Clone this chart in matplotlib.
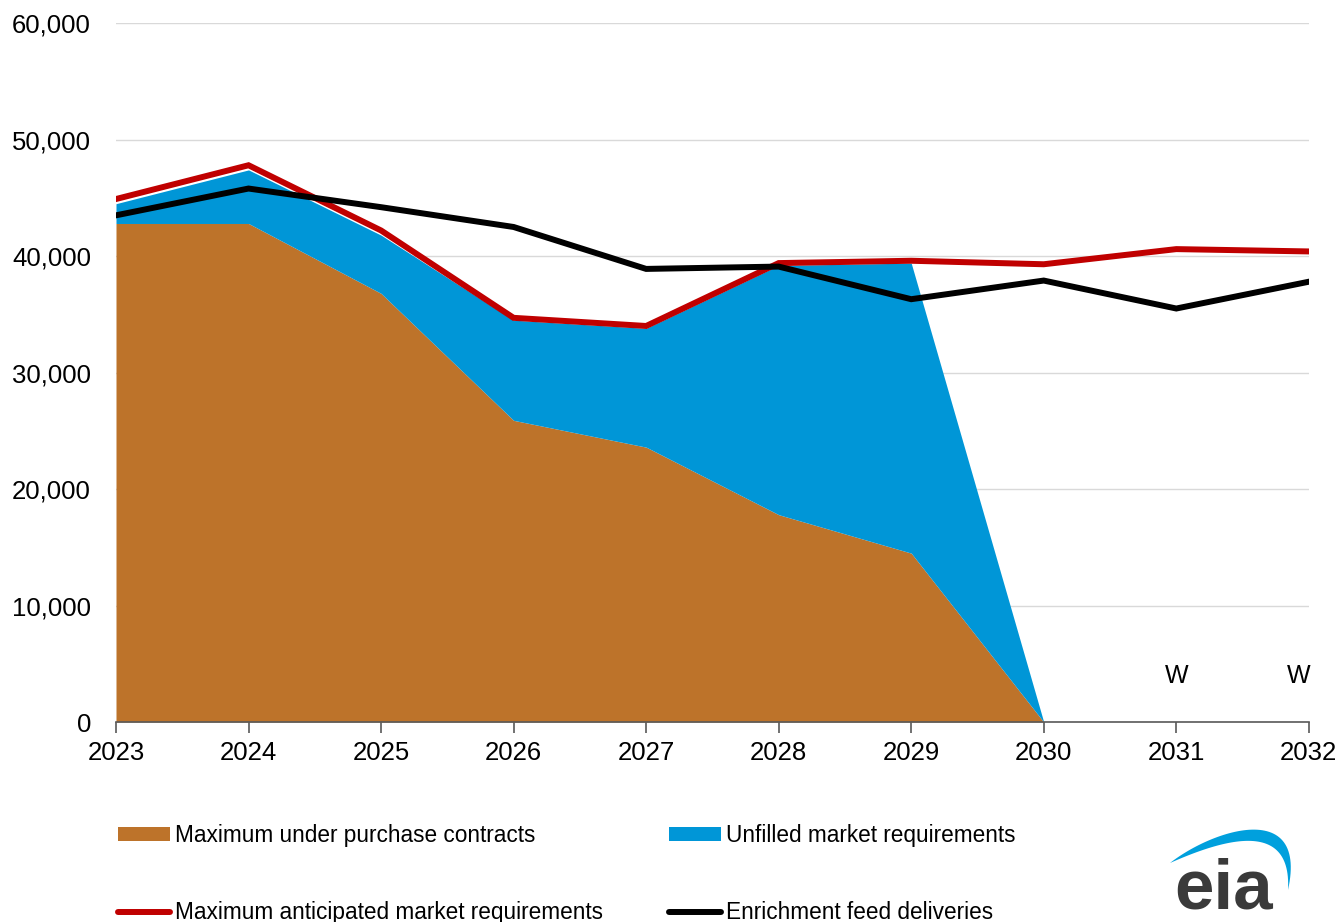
import matplotlib

matplotlib.use("Agg")

import matplotlib.pyplot as plt
import numpy as np
from matplotlib.lines import Line2D
from matplotlib.patches import Patch, Polygon

plt.rcParams["font.family"] = ["Liberation Sans", "DejaVu Sans"]

years = [2023, 2024, 2025, 2026, 2027, 2028, 2029, 2030, 2031, 2032]
purchase_contracts = [42800, 42800, 36800, 25900, 23600, 17800, 14500, 0]
unfilled_total = [44500, 47400, 41800, 34500, 33800, 39200, 39400, 0]
max_anticipated = [44900, 47800, 42200, 34700, 34000, 39400, 39600, 39300, 40600, 40400]
feed_deliveries = [43500, 45800, 44200, 42500, 38900, 39100, 36300, 37900, 35500, 37800]
withheld_years = [2031, 2032]
withheld_text = "W"

BROWN = "#BD732A"
BLUE = "#0096D7"
RED = "#C00000"
BLACK = "#000000"
GRID = "#D9D9D9"
W_PX, H_PX = 1341, 922

fig = plt.figure(figsize=(13.41, 9.22), dpi=100, facecolor="white")
ax = fig.add_axes([0.0865, 0.2169, 0.8895, 0.758])

area_years = years[:len(purchase_contracts)]
ax.fill_between(area_years, 0, purchase_contracts, color=BROWN, lw=0, zorder=2)
ax.fill_between(area_years, purchase_contracts, unfilled_total, color=BLUE, lw=0, zorder=2)
ax.plot(years, max_anticipated, color=RED, lw=4.3, zorder=3, solid_joinstyle="miter")
ax.plot(years, feed_deliveries, color=BLACK, lw=4.3, zorder=4, solid_joinstyle="miter")

for yr, dx in zip(withheld_years, [0, -10]):
    ax.annotate(withheld_text, (yr, 0), xytext=(dx, 34), textcoords="offset pixels",
                ha="center", va="bottom", fontsize=18, color="#000000")

ax.set_xlim(2023, 2032)
ax.set_ylim(0, 60000)
ax.set_xticks(years)
ax.set_yticks(np.arange(0, 60001, 10000))
ax.yaxis.set_major_formatter(matplotlib.ticker.FuncFormatter(lambda v, p: f"{int(v):,}"))
ax.grid(axis="y", color=GRID, lw=1, zorder=0)
ax.set_axisbelow(True)
for side in ["top", "right", "left"]:
    ax.spines[side].set_visible(False)
ax.spines["bottom"].set_color("#595959")
ax.spines["bottom"].set_linewidth(1.2)
ax.spines["bottom"].set_zorder(5)
ax.tick_params(axis="x", direction="out", length=8, width=1.2, color="#595959",
               labelsize=18.5, pad=6)
ax.tick_params(axis="y", length=0, labelsize=18.5, pad=18)

handles = [
    Patch(facecolor=BROWN, edgecolor="none"),
    Line2D([], [], color=RED, lw=4.3, solid_capstyle="round"),
    Patch(facecolor=BLUE, edgecolor="none"),
    Line2D([], [], color=BLACK, lw=4.3, solid_capstyle="round"),
]
labels = [
    "Maximum under purchase contracts",
    "Maximum anticipated market requirements",
    "Unfilled market requirements",
    "Enrichment feed deliveries",
]
fig.legend(handles, labels, ncol=2, loc="upper left",
           bbox_to_anchor=(118 / W_PX, 1 - 824 / H_PX),
           frameon=False, fontsize=16.3, handlelength=2.3, handleheight=0.53,
           handletextpad=0.22, labelspacing=2.4, columnspacing=2.9,
           borderaxespad=0, borderpad=0)


# eia logo: blue swoosh plus the letters
def bezier(p0, p1, p2, p3, n=60):
    t = np.linspace(0, 1, n)[:, None]
    return ((1 - t) ** 3) * p0 + 3 * ((1 - t) ** 2) * t * p1 + 3 * (1 - t) * t ** 2 * p2 + t ** 3 * p3


outer = bezier(np.array([1170, 863]), np.array([1215, 828]),
               np.array([1308, 800]), np.array([1288, 890]))
inner = bezier(np.array([1170, 863]), np.array([1222, 840]),
               np.array([1292, 818]), np.array([1288, 890]))[::-1]
pts = np.vstack([outer, inner]).astype(float)
pts[:, 0] /= W_PX
pts[:, 1] = 1 - pts[:, 1] / H_PX
fig.patches.append(Polygon(pts, closed=True, transform=fig.transFigure,
                           facecolor="#00A0DD", edgecolor="none"))
fig.text(1224 / W_PX, 1 - 908 / H_PX, "eia", ha="center", va="baseline", fontsize=51,
         fontweight="bold", color="#3A3A3A")

fig.savefig("out.png", dpi=100, facecolor="white")
